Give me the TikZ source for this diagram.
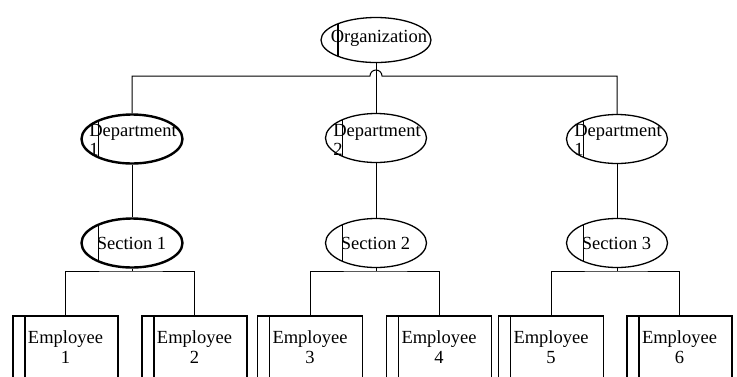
\documentclass[tikz,border=0pt]{standalone}
\usepackage{fontspec}
\setmainfont{Liberation Serif}
\usetikzlibrary{shapes.geometric}
\begin{document}
\begin{tikzpicture}[x=1pt,y=-1pt,
  conn/.style={line width=1pt},
  oval/.style={ellipse, draw, inner sep=0pt, minimum width=101pt, minimum height=49pt, line width=1.3pt,
    path picture={\draw[line width=1.3pt]
      ([xshift=17pt]path picture bounding box.north west) --
      ([xshift=17pt]path picture bounding box.south west);}},
  boldoval/.style={oval, line width=2.4pt},
  txt/.style={font=\fontsize{18.5}{19.5}\selectfont, inner sep=0pt},
  emp/.style={draw, line width=1.6pt, minimum width=105pt, minimum height=90pt,
    anchor=north, inner sep=0pt,
    path picture={\draw[line width=1.6pt]
      ([xshift=12pt]path picture bounding box.north west) --
      ([xshift=12pt]path picture bounding box.south west);}},
]
\useasboundingbox (0,0) rectangle (737,376);
\clip (0,0) rectangle (737,376);

% top level
\node[oval, minimum width=110pt, minimum height=45pt] (org) at (376,40) {};
\node[txt] (orgt) at (379,38) {Organization};

% departments
\node[boldoval] (d1) at (132,139) {};
\node[oval] (d2) at (376,138) {};
\node[oval] (d3) at (617,139) {};
\node[txt, align=left] (d1t) at (133,140) {Department\\1};
\node[txt, align=left] (d2t) at (377,140) {Department\\2};
\node[txt, align=left] (d3t) at (618,140) {Department\\1};

% sections
\node[boldoval] (s1) at (132,243) {};
\node[oval] (s2) at (376,243) {};
\node[oval] (s3) at (617,243) {};
\node[txt] (s1t) at (131.5,243) {Section 1};
\node[txt] (s2t) at (375.5,243) {Section 2};
\node[txt] (s3t) at (616.5,243) {Section 3};

% employees
\node[emp] (e1) at (65.5,315) {};
\node[emp] (e2) at (194.5,315) {};
\node[emp] (e3) at (310,315) {};
\node[emp] (e4) at (439,315) {};
\node[emp] (e5) at (551,315) {};
\node[emp] (e6) at (679.5,315) {};
\foreach \n/\x in {1/65.5,2/194.5,3/310,4/439,5/551,6/679.5}
  \node[txt, align=center] (e\n t) at (\x,347) {Employee\\\n};

% department bus with a hop over the centre drop
\coordinate (hopL) at (370,76);
\draw[conn] (d1.north) |- (hopL) arc[start angle=180, end angle=0, radius=6pt] -| (d3.north);
\draw[conn] (org.south) -- (d2.north);

% department to section
\draw[conn] (d1.south) -- (s1.north);
\draw[conn] (d2.south) -- (s2.north);
\draw[conn] (d3.south) -- (s3.north);

% section to employees
\foreach \s/\a/\b in {s1/e1/e2, s2/e3/e4, s3/e5/e6}{
  \coordinate (\s bus) at (\s.south |- 0,271);
  \draw[conn] (\s.south) -- (\s bus);
  \draw[conn] (\a.north) |- (\s bus) -| (\b.north);
}
\end{tikzpicture}
\end{document}
